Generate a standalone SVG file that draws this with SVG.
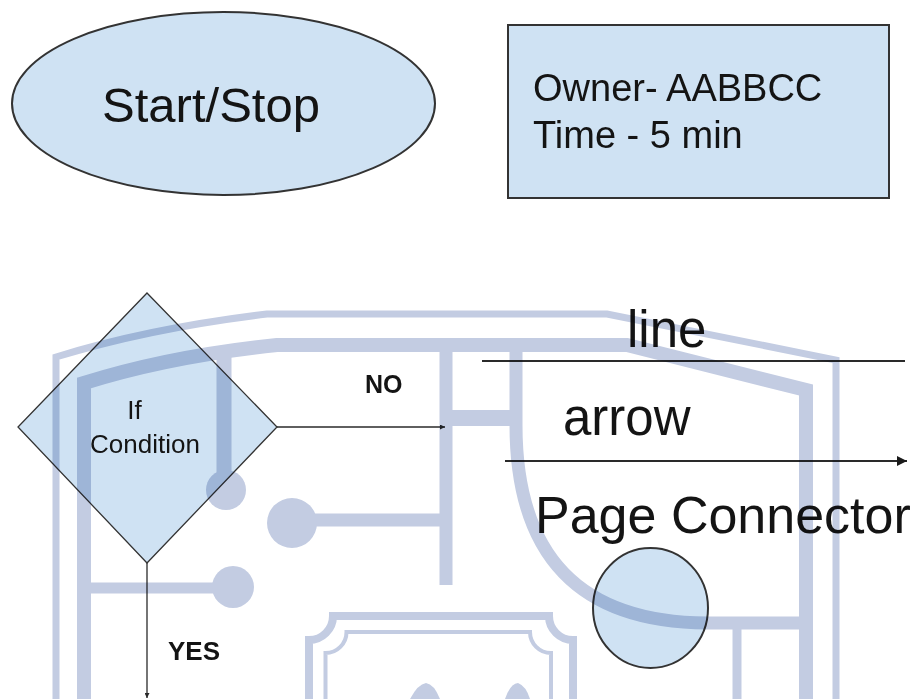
<svg xmlns="http://www.w3.org/2000/svg" width="914" height="699" viewBox="0 0 914 699">
  <style>
    .shape { fill: #cfe2f3; stroke: #333333; }
    .label { font-family: "Liberation Sans", Arial, sans-serif; fill: #141414; }
    .bold { font-weight: bold; }
    .wire { stroke: #2a2a2a; fill: none; }
    .logo-band { fill: none; stroke: #c3cce2; stroke-linejoin: miter; }
    .logo-fill { fill: #c3cce2; }
    #backdrop-logo { mix-blend-mode: multiply; }
  </style>
  <defs>
    <marker id="head-small" viewBox="0 0 10 10" refX="10" refY="5" markerWidth="6" markerHeight="5" markerUnits="userSpaceOnUse" orient="auto">
      <path d="M0,0 L10,5 L0,10 z" fill="#2a2a2a"/>
    </marker>
    <marker id="head-large" viewBox="0 0 10 10" refX="10" refY="5" markerWidth="13" markerHeight="10" markerUnits="userSpaceOnUse" orient="auto">
      <path d="M0,0 L10,5 L0,10 z" fill="#1a1a1a"/>
    </marker>
  </defs>

  <rect width="914" height="699" fill="#ffffff"/>

  <!-- Terminator symbol -->
  <g id="start-stop">
    <ellipse class="shape" cx="223.5" cy="103.5" rx="211.5" ry="91.5" stroke-width="2"/>
    <text class="label" x="211" y="122" font-size="49" text-anchor="middle">Start/Stop</text>
  </g>

  <!-- Process box -->
  <g id="owner-box">
    <rect class="shape" x="508" y="25" width="381" height="173" stroke="#555555" stroke-width="2"/>
    <text class="label" x="533" y="101" font-size="38">Owner- AABBCC</text>
    <text class="label" x="533" y="148" font-size="38">Time - 5 min</text>
  </g>

  <!-- Decision -->
  <g id="if-condition">
    <polygon class="shape" points="147,293 277,427 147,563 18,427" stroke-width="1.3"/>
    <text class="label" x="134.5" y="419" font-size="26" text-anchor="middle">If</text>
    <text class="label" x="145" y="453" font-size="26" text-anchor="middle">Condition</text>
  </g>

  <!-- Off-page connector -->
  <g id="page-connector">
    <text class="label" x="535" y="533" font-size="52">Page Connector</text>
    <ellipse class="shape" cx="650.5" cy="608" rx="57.5" ry="60" stroke-width="2"/>
  </g>

  <!-- Legend captions -->
  <g id="line-legend">
    <text class="label" x="627" y="347" font-size="51">line</text>
  </g>
  <g id="arrow-legend">
    <text class="label" x="563" y="435" font-size="51">arrow</text>
  </g>

  <!-- Connectors -->
  <g id="connectors">
    <line class="wire" x1="277" y1="427" x2="445" y2="427" stroke-width="1.3" marker-end="url(#head-small)"/>
    <text class="label bold" x="365" y="393" font-size="25">NO</text>
    <line class="wire" x1="147" y1="563" x2="147" y2="698" stroke-width="1.3" marker-end="url(#head-small)"/>
    <text class="label bold" x="168" y="660" font-size="26">YES</text>
    <line class="wire" x1="482" y1="361" x2="905" y2="361" stroke-width="2"/>
    <line class="wire" x1="505" y1="461" x2="907" y2="461" stroke-width="2" marker-end="url(#head-large)"/>
  </g>

  <!-- Faint emblem printed across the lower half -->
  <g id="backdrop-logo">
    <!-- outer thin shield outline -->
    <path class="logo-band" stroke-width="7" d="M56,699 V357 Q150,328 267,314 H607 L836,360 V699"/>
    <!-- inner thick shield outline -->
    <path class="logo-band" stroke-width="14" d="M84,699 V383 Q170,356 277,345 H627 L806,390 V699"/>
    <!-- circuit traces with round pads -->
    <path class="logo-band" stroke-width="15" d="M224,350 V480"/>
    <circle class="logo-fill" cx="226" cy="490" r="20"/>
    <path class="logo-band" stroke-width="13" d="M300,520 H446"/>
    <circle class="logo-fill" cx="292" cy="523" r="25"/>
    <path class="logo-band" stroke-width="11" d="M91,588 H225"/>
    <circle class="logo-fill" cx="233" cy="587" r="21"/>
    <path class="logo-band" stroke-width="13" d="M446,345 V585"/>
    <path class="logo-band" stroke-width="16" d="M446,418 H516"/>
    <!-- quarter arc -->
    <path class="logo-band" stroke-width="13" d="M516,345 V425 Q516,622 707,623 H813"/>
    <path class="logo-band" stroke-width="9" d="M737,623 V699"/>
    <!-- framed panel with notched corners -->
    <path class="logo-band" stroke-width="8" d="M309,699 V640 A24,24 0 0 0 333,616 H549 A24,24 0 0 0 573,640 V699"/>
    <path class="logo-band" stroke-width="4" d="M325.5,699 V653 A21,21 0 0 0 346.5,632 H530 A21,21 0 0 0 551,653 V699"/>
    <!-- tops of the letter form inside the panel -->
    <path class="logo-fill" d="M410,699 Q418,684 426,683 Q434,684 440,699 Z"/>
    <path class="logo-fill" d="M505,699 Q510,684 518,683 Q526,686 530,699 Z"/>
  </g>
</svg>
